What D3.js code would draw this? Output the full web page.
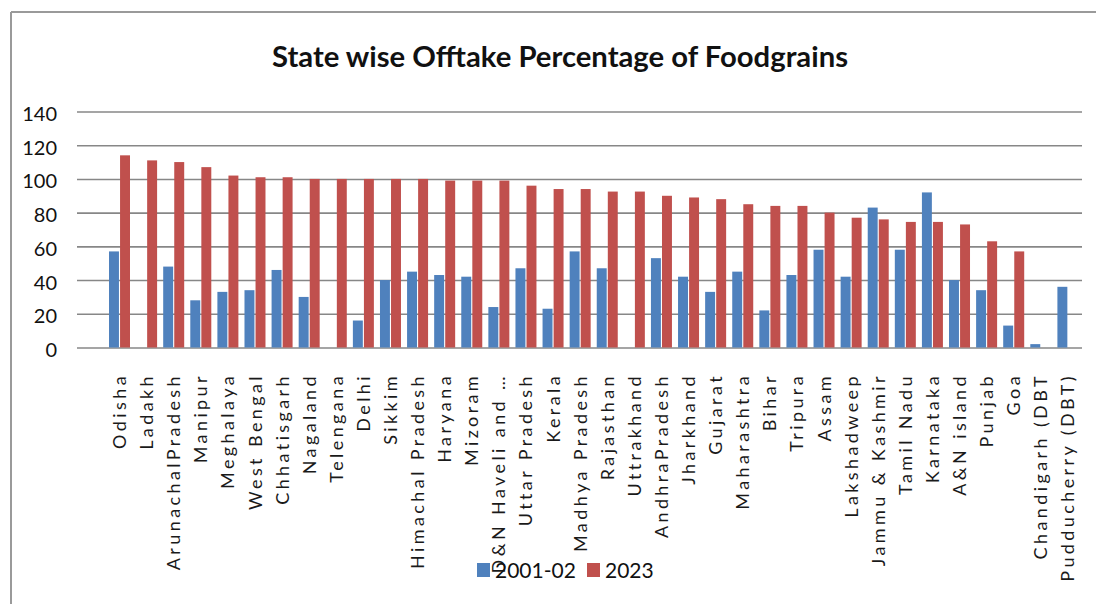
<!DOCTYPE html>
<html>
<head>
<meta charset="utf-8">
<script src="https://cdn.jsdelivr.net/npm/d3@7"></script>
<style>
  html, body { margin: 0; padding: 0; background: #fff; }
  svg { display: block; }
</style>
</head>
<body>
<svg id="chart" width="1096" height="604"></svg>
<script>
// State-wise offtake of foodgrains (%), 2001-02 vs 2023
const categories = [
  "Odisha", "Ladakh", "ArunachalPradesh", "Manipur", "Meghalaya", "West Bengal",
  "Chhatisgarh", "Nagaland", "Telengana", "Delhi", "Sikkim", "Himachal Pradesh",
  "Haryana", "Mizoram", "D&N Haveli and \u2026", "Uttar Pradesh", "Kerala", "Madhya Pradesh",
  "Rajasthan", "Uttrakhand", "AndhraPradesh", "Jharkhand", "Gujarat", "Maharashtra",
  "Bihar", "Tripura", "Assam", "Lakshadweep", "Jammu  & Kashmir", "Tamil Nadu",
  "Karnataka", "A&N island", "Punjab", "Goa", "Chandigarh (DBT", "Pudducherry (DBT)"
];
const values2001 = [
  57, null, 48, 28, 33, 34, 46, 30, null, 16, 40, 45,
  43, 42, 24, 47, 23, 57, 47, null, 53, 42, 33, 45,
  22, 43, 58, 42, 83, 58, 92, 40, 34, 13, 2, 36
];
const values2023 = [
  114, 111, 110, 107, 102, 101, 101, 100, 100, 100, 100, 100,
  99, 99, 99, 96, 94, 94, 92.5, 92.5, 90, 89, 88, 85,
  84, 84, 80, 77, 76, 74.5, 74.5, 73, 63, 57, null, null
];
const seriesNames = ["2001-02", "2023"];
const seriesColors = ["#4F81BD", "#C0504D"];
const yTicks = [0, 20, 40, 60, 80, 100, 120, 140];
const chartTitle = "State wise Offtake Percentage of Foodgrains";

const rows = categories.map((c, i) => ({ cat: c, vals: [values2001[i], values2023[i]] }));
const FONT = "Lato, 'Liberation Sans', Arial, sans-serif";

const svg = d3.select("#chart");
const gridLeft = 77, gridRight = 1082;

// outer frame (top and left edges visible)
svg.append("line").attr("x1", 11).attr("x2", 1096).attr("y1", 12).attr("y2", 12)
  .attr("stroke", "#9a9a9a").attr("stroke-width", 2);
svg.append("line").attr("x1", 11).attr("x2", 11).attr("y1", 12).attr("y2", 604)
  .attr("stroke", "#9a9a9a").attr("stroke-width", 2);

const y = d3.scaleLinear().domain([0, 140]).range([347.5, 111.5]);
const x = d3.scaleBand().domain(categories).range([106, 1081.5]).padding(0);
const xs = d3.scaleBand().domain([0, 1]).range([3, 24]).paddingInner(0.1);

// gridlines + y labels
const yAxis = d3.axisLeft(y).tickValues(yTicks).tickSize(-(gridRight - gridLeft)).tickPadding(20);
const gy = svg.append("g").attr("transform", `translate(${gridLeft},0)`).call(yAxis);
gy.select(".domain").remove();
gy.selectAll(".tick line").attr("stroke", "#878787").attr("stroke-width", 1.6);
gy.selectAll(".tick text")
  .attr("x", 57 - gridLeft).attr("dy", "0.45em")
  .attr("fill", "#111").style("font-family", FONT)
  .style("font-size", "20px");

// bars
const groups = svg.append("g").selectAll("g").data(rows).join("g")
  .attr("transform", d => `translate(${x(d.cat)},0)`);
groups.selectAll("rect")
  .data(d => d.vals.map((v, s) => ({ v, s })).filter(e => e.v != null))
  .join("rect")
  .attr("x", e => xs(e.s))
  .attr("width", xs.bandwidth())
  .attr("y", e => y(e.v))
  .attr("height", e => y(0) - y(e.v))
  .attr("fill", e => seriesColors[e.s]);

// category labels, rotated
const xAxis = d3.axisBottom(x).tickSize(0).tickPadding(0);
const gx = svg.append("g").attr("transform", "translate(0,373)").call(xAxis);
gx.select(".domain").remove();
gx.selectAll(".tick text")
  .attr("transform", "rotate(-90)")
  .attr("x", 0).attr("y", 0).attr("dy", "0.36em")
  .attr("text-anchor", "end")
  .attr("fill", "#1a1a1a")
  .style("font-family", FONT)
  .style("font-size", "18px")
  .style("letter-spacing", "3.4px");

// title
svg.append("text")
  .attr("x", 560).attr("y", 67)
  .attr("text-anchor", "middle")
  .attr("textLength", 576).attr("lengthAdjust", "spacingAndGlyphs")
  .attr("fill", "#111")
  .style("font-family", FONT)
  .style("font-weight", "bold")
  .style("font-size", "29px")
  .text(chartTitle);

// legend
const legendX = [477, 587];
const legend = svg.append("g").selectAll("g").data(seriesNames).join("g")
  .attr("transform", (d, i) => `translate(${legendX[i]},563)`);
legend.append("rect").attr("width", 13).attr("height", 14).attr("fill", (d, i) => seriesColors[i]);
legend.append("text").attr("x", 18).attr("y", 14.5)
  .attr("fill", "#111")
  .style("font-family", FONT)
  .style("font-size", "21px")
  .text(d => d);
</script>
</body>
</html>
